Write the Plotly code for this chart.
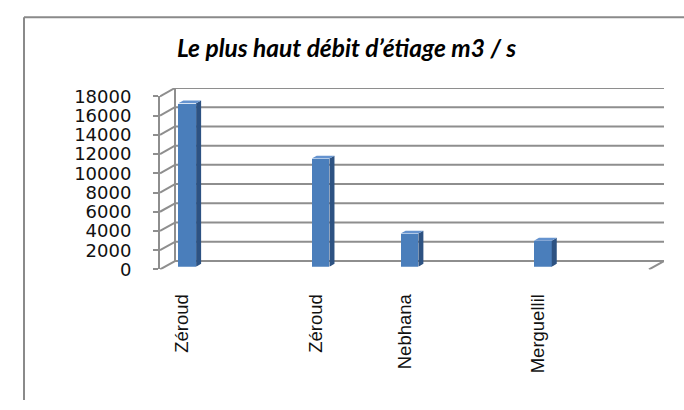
import plotly.graph_objects as go

# Data
categories = ["Zéroud", "", "", "Zéroud", "", "Nebhana", "", "", "Merguellil", "", ""]
debits = [17000, None, None, 11250, None, 3450, None, None, 2700, None, None]
y_ticks = [0, 2000, 4000, 6000, 8000, 10000, 12000, 14000, 16000, 18000]
y_ticktext = ["0", "2000", "4000", "6000", "8000", "10000", "12000", "14000", "16000", "18000"]
title_text = "Le plus haut débit d’étiage m3 / s"

# Page / box geometry (px)
W, H = 684, 410
FX0, FX1 = 160, 649          # front plane, left/right
FY_BOT, FY_TOP = 272.4, 90   # front plane, value 0 / value max
DX, DY = 15, 8.9             # depth of the 3D box (to the right, upward)
Y_MAX = 18000

GRID = "#8e8e8e"
BAR_FRONT = "#4a7ebb"
BAR_SIDE = "#2d5282"
BAR_TOP = "#6593cf"

n = len(categories)
cat_px = (FX1 - FX0) / n
val_px = (FY_BOT - FY_TOP) / Y_MAX


def dom_x(x0, x1):
    return [x0 / W, x1 / W]


def dom_y(ytop, ybot):
    return [1 - ybot / H, 1 - ytop / H]


fig = go.Figure()

# ---- box: back wall gridlines, side-wall diagonals, floor edge (axes x2/y2)
ddx_box = DX / cat_px
ddy_box = DY / val_px
left, right = -0.5, n - 0.5
gx, gy = [], []
for v in y_ticks:
    gx += [left, right, None]
    gy += [v, v, None]
    gx += [left - ddx_box, left, None]
    gy += [v - ddy_box, v, None]
gx += [left, left, None, right - ddx_box, right]
gy += [0, Y_MAX, None, -ddy_box, 0]
fig.add_trace(go.Scatter(x=gx, y=gy, xaxis="x2", yaxis="y2", mode="lines",
                         line=dict(color=GRID, width=2), hoverinfo="skip",
                         showlegend=False))

# ---- columns (axes x4/y4, set one third into the depth)
bw = 0.4
ddx = (DX / 3) / cat_px
ddy = (DY / 3) / val_px
sx, sy, tx, ty = [], [], [], []
for i, v in enumerate(debits):
    if v is None:
        continue
    r = i + bw / 2
    l = i - bw / 2
    sx += [r, r + ddx, r + ddx, r, r, None]
    sy += [0, ddy, v + ddy, v, 0, None]
    tx += [l, l + ddx, r + ddx, r, l, None]
    ty += [v, v + ddy, v + ddy, v, v, None]

fig.add_trace(go.Bar(x=list(range(n)), y=debits, width=bw, xaxis="x4", yaxis="y4",
                     marker=dict(color=BAR_FRONT, line=dict(width=0)),
                     showlegend=False))
fig.add_trace(go.Scatter(x=sx, y=sy, xaxis="x4", yaxis="y4", mode="lines",
                         fill="toself", fillcolor=BAR_SIDE, line=dict(width=0),
                         hoverinfo="skip", showlegend=False))
fig.add_trace(go.Scatter(x=tx, y=ty, xaxis="x4", yaxis="y4", mode="lines",
                         fill="toself", fillcolor=BAR_TOP, line=dict(width=0),
                         hoverinfo="skip", showlegend=False))

# ---- front axes carry ticks and labels
fig.add_trace(go.Scatter(x=list(range(n)), y=[0] * n, xaxis="x3", yaxis="y",
                         mode="markers", marker=dict(opacity=0),
                         hoverinfo="skip", showlegend=False))

rng_x = [-0.5, n - 0.5]
fig.update_layout(
    width=W, height=H, autosize=False,
    margin=dict(l=0, r=0, t=0, b=0),
    paper_bgcolor="white", plot_bgcolor="rgba(0,0,0,0)",
    showlegend=False,
    xaxis=dict(domain=dom_x(FX0, FX1), range=rng_x, anchor="y",
               tickmode="array", tickvals=[i - 0.5 for i in range(n + 1)],
               ticks="outside", ticklen=6, tickwidth=2, tickcolor=GRID,
               showticklabels=False, showline=True, linecolor=GRID, linewidth=2,
               showgrid=False, zeroline=False, fixedrange=True),
    xaxis3=dict(overlaying="x", anchor="y", domain=dom_x(FX0, FX1), range=rng_x,
                side="bottom",
                tickmode="array", tickvals=list(range(n)), ticktext=categories,
                tickangle=-90, ticks="", showline=False, showgrid=False,
                zeroline=False, ticklabelstandoff=20,
                tickfont=dict(family="Liberation Sans", size=18.5, color="#111111")),
    yaxis=dict(domain=dom_y(FY_TOP, FY_BOT), range=[0, Y_MAX], anchor="x",
               tickmode="array", tickvals=y_ticks, ticktext=y_ticktext,
               ticks="outside", ticklen=5, tickwidth=2, tickcolor=GRID,
               showline=True, linecolor=GRID, linewidth=2,
               showgrid=False, zeroline=False, ticklabelstandoff=18,
               tickfont=dict(family="DejaVu Sans", size=18, color="#111111")),
    xaxis2=dict(domain=dom_x(FX0, FX1 + DX), range=[-0.5 - ddx_box, n - 0.5],
                anchor="y2", visible=False),
    yaxis2=dict(domain=dom_y(FY_TOP - DY, FY_BOT), range=[-ddy_box, Y_MAX],
                anchor="x2", visible=False),
    xaxis4=dict(domain=dom_x(FX0 + DX / 3, FX1 + DX / 3), range=rng_x,
                anchor="y4", visible=False),
    yaxis4=dict(domain=dom_y(FY_TOP - DY / 3, FY_BOT - DY / 3), range=[0, Y_MAX],
                anchor="x4", visible=False),
    bargap=0,
    annotations=[dict(text=title_text, xref="paper", yref="paper",
                      x=346 / W, y=1 - 38 / H, xanchor="center", yanchor="middle",
                      showarrow=False,
                      font=dict(family="Lato", size=24.5, color="#000000",
                                weight="bold", style="italic"))],
    shapes=[
        dict(type="line", xref="paper", yref="paper", x0=24 / W, x1=24 / W,
             y0=0, y1=1 - 6.7 / H, line=dict(color="#8a8a8a", width=2)),
        dict(type="line", xref="paper", yref="paper", x0=24 / W, x1=1,
             y0=1 - 6.7 / H, y1=1 - 6.7 / H, line=dict(color="#8a8a8a", width=2)),
    ],
)

fig.write_html("out.html")
